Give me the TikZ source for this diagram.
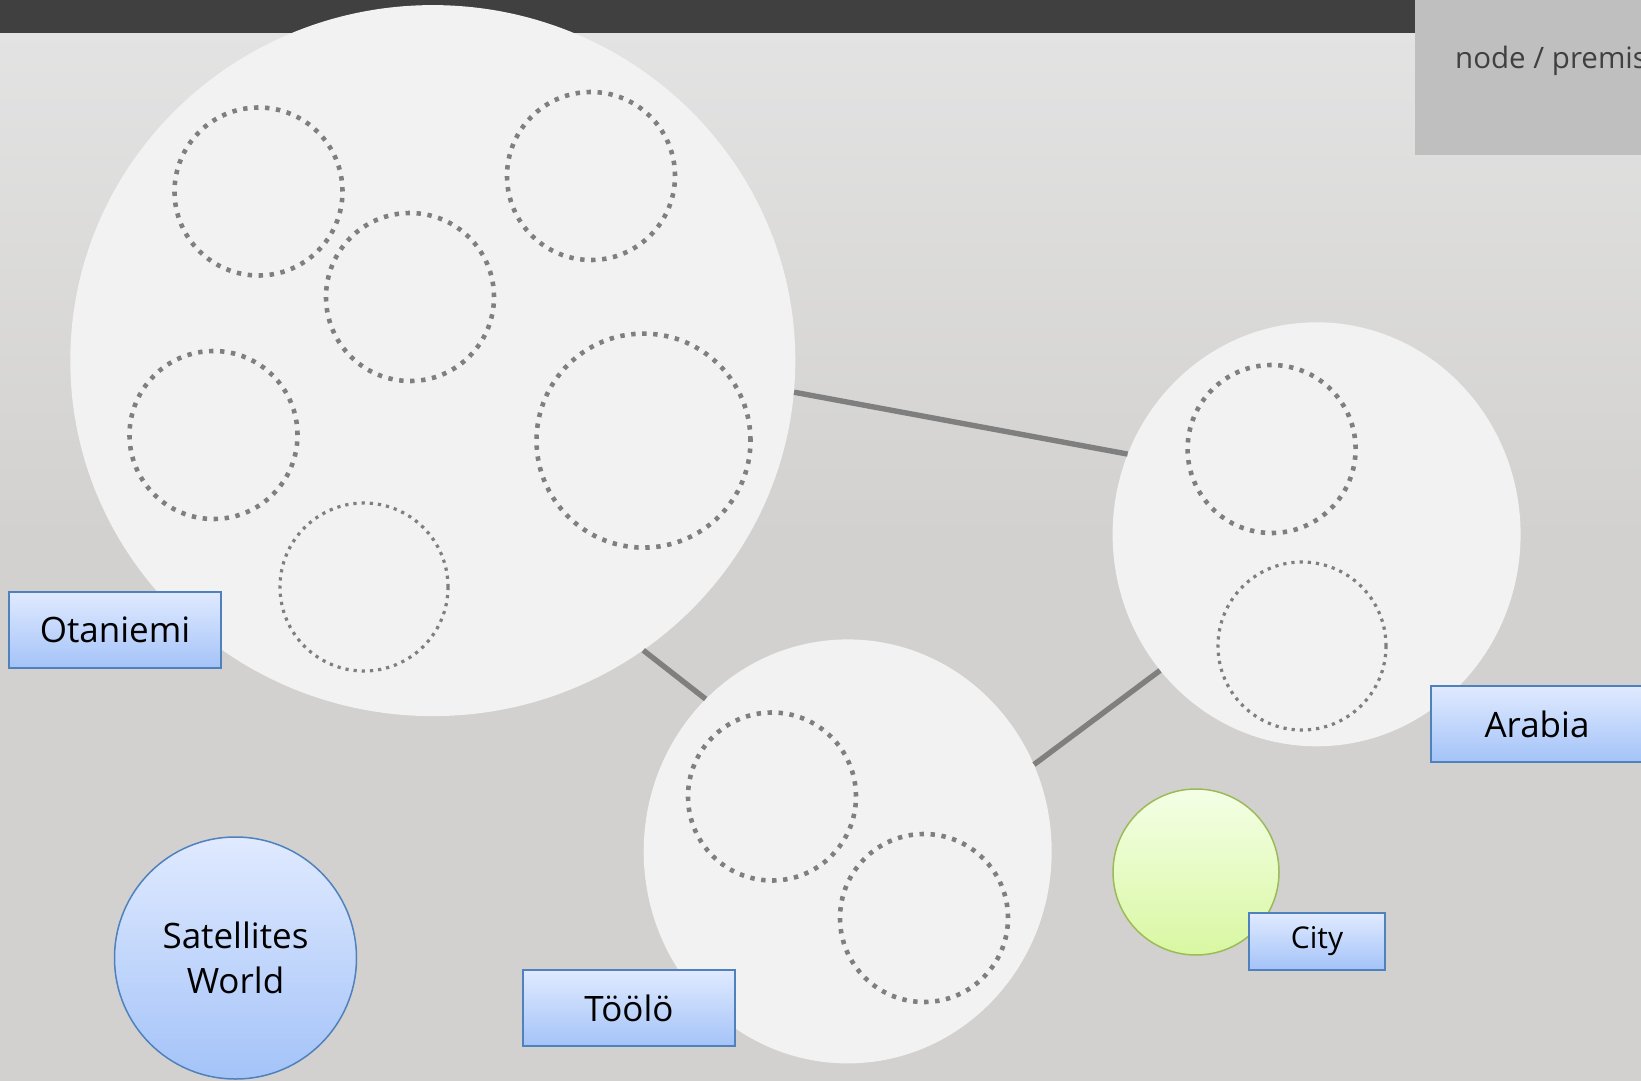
\documentclass[tikz,border=0pt]{standalone}
\usepackage{fontspec}
\usetikzlibrary{shapes.geometric}
\setmainfont{Open Sans}

\definecolor{bgtop}{HTML}{E4E4E4}
\definecolor{bgbot}{HTML}{D2D1CF}
\definecolor{bardark}{HTML}{404040}
\definecolor{legendgray}{HTML}{BFBFBF}
\definecolor{sitefill}{HTML}{F2F2F2}
\definecolor{linkgray}{HTML}{7F7F7F}
\definecolor{boxtop}{HTML}{E0EAFF}
\definecolor{boxbot}{HTML}{A4C3F8}
\definecolor{boxline}{HTML}{4F81BD}
\definecolor{citytop}{HTML}{F4FFE6}
\definecolor{citybot}{HTML}{D9F7A2}
\definecolor{cityline}{HTML}{9BBB59}

\begin{document}
\begin{tikzpicture}[x=1pt,y=-1pt,
  site/.style={ellipse,fill=sitefill,inner sep=0pt},
  host/.style={circle,draw=linkgray,line width=4.6pt,dash pattern=on 4.4pt off 6.6pt,inner sep=0pt,minimum size=168pt},
  thinhost/.style={host,line width=3.2pt,dash pattern=on 3.2pt off 5pt},
  link/.style={draw=linkgray,line width=5.4pt},
  tag/.style={rectangle,draw=boxline,line width=1.5pt,top color=boxtop,bottom color=boxbot,
    minimum width=212pt,minimum height=76pt,font=\fontsize{35}{40}\selectfont}]
\clip (0,0) rectangle (1641,1081);
% background
\shade[top color=bgtop,bottom color=bgbot] (0,0) rectangle (1641,540);
\fill[bgbot] (0,539) rectangle (1641,1081);
\fill[bardark] (0,0) rectangle (1415,33.5);
\fill[legendgray] (1415,0) rectangle (1641,155);
\node[anchor=base west,text=bardark,inner sep=0pt,font=\fontsize{29.5}{36}\selectfont] (legend) at (1455,68) {node / premises};

% sites
\node[site,minimum width=725pt,minimum height=711pt] (otaniemi) at (432.8,360.6) {};
\node[site,minimum width=408pt,minimum height=424pt] (arabia) at (1316.6,534.3) {};
\node[site,minimum width=408pt,minimum height=424pt] (toolo) at (847.7,851.4) {};

\draw[link] (otaniemi.-5.9)--(arabia.157.9) (otaniemi.-54.3)--(toolo.133.8) (toolo.25.3)--(arabia.-139);

% hosts in each site
\node[host] (o1) at (258.5,191.5) {};
\node[host] (o2) at (591,176) {};
\node[host] (o3) at (410,297) {};
\node[host] (o4) at (213.5,435) {};
\node[host,minimum size=214pt] (o5) at (643.5,440.6) {};
\node[thinhost] (o6) at (364,587) {};
\node[host] (a1) at (1271.6,449) {};
\node[thinhost] (a2) at (1302,646) {};
\node[host] (t1) at (772,796.5) {};
\node[host] (t2) at (924,918) {};

% labels
\node[tag] (otaniemilabel) at (115,630) {Otaniemi};
\node[tag] (toololabel) at (629,1008) {Töölö};
\node[tag] (arabialabel) at (1537,724) {Arabia};

\node[circle,draw=boxline,line width=1.5pt,top color=boxtop,bottom color=boxbot,minimum size=242pt,
  align=center,font=\fontsize{35}{45}\selectfont] (satellites) at (235.5,958) {Satellites\\World};

\node[circle,draw=cityline,line width=1.5pt,top color=citytop,bottom color=citybot,minimum size=166pt] (city) at (1196,872) {};
\node[tag,minimum width=136pt,minimum height=57pt,font=\fontsize{30}{34}\selectfont] (citylabel) at (1317,941.5) {City};
\end{tikzpicture}
\end{document}
